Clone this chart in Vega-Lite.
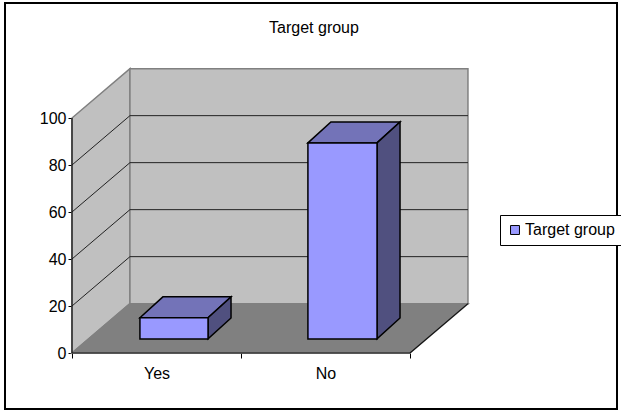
{
"$schema":"https://vega.github.io/schema/vega-lite/v6.json",
"width":612,"height":406,
"autosize":"none",
"padding":{"left":5,"top":3,"right":4,"bottom":1},
"background":"white",
"view":{"stroke":"#000000","strokeWidth":2,"fill":"white"},
"title":{"text":"Target group","anchor":"middle","frame":"group","orient":"top","font":"Liberation Sans","fontSize":16,"fontWeight":"normal","color":"#000000","dx":3,"dy":49,"offset":0,"baseline":"bottom"},
"config":{"font":"Liberation Sans"},
"datasets":{
"walls":[
{"part":"wall","x":0,"y":0,"y2":100},
{"part":"wall","x":0.343,"y":21,"y2":121},
{"part":"back","x":0.343,"y":21,"y2":121},
{"part":"back","x":2.343,"y":21,"y2":121},
{"part":"floor","x":0,"y":0,"y2":0},
{"part":"floor","x":0.343,"y":21,"y2":0},
{"part":"floor","x":2,"y":21,"y2":0},
{"part":"floor","x":2.343,"y":21,"y2":21}
],
"grid":[
{"level":20,"x":0,"y":20},{"level":20,"x":0.343,"y":41},{"level":20,"x":2.343,"y":41},
{"level":40,"x":0,"y":40},{"level":40,"x":0.343,"y":61},{"level":40,"x":2.343,"y":61},
{"level":60,"x":0,"y":60},{"level":60,"x":0.343,"y":81},{"level":60,"x":2.343,"y":81},
{"level":80,"x":0,"y":80},{"level":80,"x":0.343,"y":101},{"level":80,"x":2.343,"y":101}
],
"edges":[
{"edge":"value axis","x":0,"y":0},{"edge":"value axis","x":0,"y":100},
{"edge":"category axis","x":0,"y":0},{"edge":"category axis","x":2,"y":0},{"edge":"category axis","x":2.343,"y":21}
],
"faces":[
{"face":"Yes top","part":"top","x":0.402,"y":15,"y2":15},
{"face":"Yes top","part":"top","x":0.538,"y":23.9,"y2":15},
{"face":"Yes top","part":"top","x":0.805,"y":23.9,"y2":15},
{"face":"Yes top","part":"top","x":0.941,"y":23.9,"y2":23.9},
{"face":"Yes side","part":"side","x":0.805,"y":15,"y2":6},
{"face":"Yes side","part":"side","x":0.941,"y":23.9,"y2":14.9},
{"face":"No top","part":"top","x":1.396,"y":89.4,"y2":89.4},
{"face":"No top","part":"top","x":1.532,"y":98.3,"y2":89.4},
{"face":"No top","part":"top","x":1.805,"y":98.3,"y2":89.4},
{"face":"No top","part":"top","x":1.941,"y":98.3,"y2":98.3},
{"face":"No side","part":"side","x":1.805,"y":89.4,"y2":6},
{"face":"No side","part":"side","x":1.941,"y":98.3,"y2":14.9}
],
"bars":[
{"category":"Yes","part":"Target group","x":0.402,"x2":0.805,"base":6,"value":15},
{"category":"No","part":"Target group","x":1.396,"x2":1.805,"base":6,"value":89.4}
]
},
"encoding":{
"x":{"field":"x","type":"quantitative","title":null,"scale":{"domain":[-0.3964,3.2249],"nice":false,"zero":false},
"axis":{"values":[0,1,2],"offset":-56,"domain":false,"grid":false,"tickColor":"#000000","tickSize":5,"labelOffset":84.5,"labelExpr":"datum.value==0?'Yes':datum.value==1?'No':''","labelFont":"Liberation Sans","labelFontSize":16,"labelColor":"#000000","labelPadding":7,"labelOverlap":false,"labelBound":false,"labelFlush":false}},
"y":{"field":"y","type":"quantitative","title":null,"scale":{"domain":[-23.83,148.94],"nice":false,"zero":false},
"axis":{"values":[0,20,40,60,80,100],"offset":-67,"domain":false,"grid":false,"tickColor":"#000000","tickSize":4,"labelFont":"Liberation Sans","labelFontSize":16,"labelColor":"#000000","labelPadding":2,"labelOverlap":false,"labelBound":false,"labelFlush":false}}
},
"layer":[
{"data":{"name":"walls"},"mark":{"type":"area","stroke":"#808080","strokeWidth":1.5,"clip":false},
"encoding":{"y2":{"field":"y2"},"detail":{"field":"part"},
"color":{"field":"part","type":"nominal","scale":{"domain":["wall","back","floor","top","side","Target group"],"range":["#c0c0c0","#c0c0c0","#808080","#7373b8","#50507f","#9999ff"]},"legend":{"values":["Target group"],"title":null,"orient":"none","legendX":495,"legendY":212,"fillColor":"white","strokeColor":"#000000","padding":7,"symbolType":"square","symbolSize":80,"symbolStrokeColor":"#000000","symbolStrokeWidth":1,"labelFont":"Liberation Sans","labelFontSize":16,"labelColor":"#000000","labelOffset":2,"symbolOpacity":1}}}},
{"data":{"name":"grid"},"mark":{"type":"line","color":"#222222","strokeWidth":1},
"encoding":{"detail":{"field":"level"},"order":{"field":"x"}}},
{"data":{"name":"edges"},"mark":{"type":"line","color":"#111111","strokeWidth":1.2},
"encoding":{"detail":{"field":"edge"},"order":{"field":"y"}}},
{"data":{"name":"faces"},"mark":{"type":"area","stroke":"#000000","strokeWidth":1.5},
"encoding":{"y2":{"field":"y2"},"detail":{"field":"face"},"color":{"field":"part","type":"nominal"}}},
{"data":{"name":"bars"},"mark":{"type":"rect","stroke":"#000000","strokeWidth":1.5},
"encoding":{"x":{"field":"x","type":"quantitative"},"x2":{"field":"x2"},"y":{"field":"base","type":"quantitative"},"y2":{"field":"value"},"color":{"field":"part","type":"nominal"}}}
]
}
